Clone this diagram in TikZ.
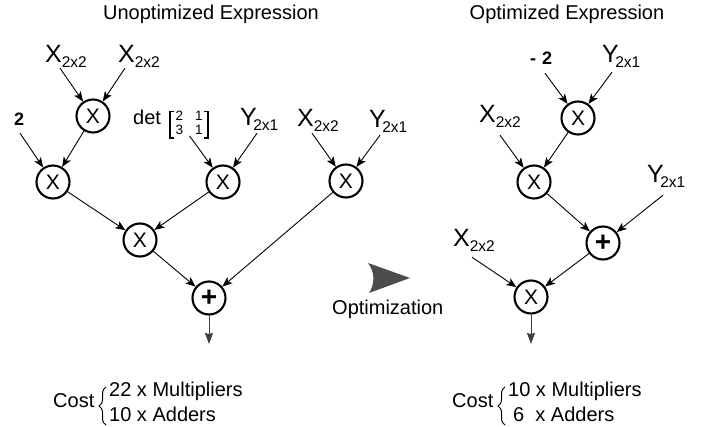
\documentclass[tikz,border=0pt]{standalone}
\usepackage{fontspec}
\setmainfont{Liberation Sans}
\usetikzlibrary{arrows.meta,decorations.pathreplacing}

\newcommand\fs[1]{\fontsize{#1}{#1}\selectfont}
% operand labels with a lowered size subscript
\newcommand\Xsub{{\fs{25}X}\raisebox{-5pt}{\fs{15.5}2x2}}
\newcommand\Ysub{{\fs{25}Y}\kern-3.5pt\raisebox{-5pt}{\fs{15.5}2x1}}

\begin{document}
\begin{tikzpicture}[x=1pt,y=-1pt,
  op/.style={circle,draw,line width=2.1pt,minimum size=33pt,inner sep=0pt,font=\fs{21}},
  addop/.style={op,font=\fs{28}\bfseries},
  lbl/.style={inner sep=0pt,anchor=base west},
  numlbl/.style={lbl,font=\fs{18}\bfseries},
  txt/.style={inner sep=0pt,anchor=base west,font=\fs{20}},
  ttl/.style={inner sep=0pt,anchor=base,font=\fs{20}},
  matbr/.style={line width=1.5pt},
  edge/.style={line width=0.9pt,-{Stealth[length=10pt,width=8pt,inset=2.5pt]}},
  outedge/.style={line width=1pt,draw=black!75,-{Stealth[length=11pt,width=8pt,inset=1pt]}},
  costbrace/.style={decorate,decoration={brace,amplitude=7pt},line width=1pt}]

\useasboundingbox (0,0) rectangle (707,427);

% titles
\node[ttl] (t1) at (211,20) {Unoptimized Expression};
\node[ttl] (t2) at (567,20) {Optimized Expression};

% ---------- unoptimized tree ----------
\node[op] (m1) at (93,116) {X};
\node[op] (m2) at (53,182) {X};
\node[op] (m3) at (223,182) {X};
\node[op] (m4) at (346,181) {X};
\node[op] (m5) at (140,240) {X};
\node[addop] (m6) at (209,298) {+};
\coordinate (o1) at (209,344);

\node[lbl] (xa) at (45,63) {\Xsub};
\node[lbl] (xb) at (118,63) {\Xsub};
\node[numlbl] (two) at (14,126) {2};
\node[lbl,font=\fs{20}] (det) at (133,125) {det};
\node[lbl,font=\fontsize{13.5}{12}\selectfont] (mat) at (175.5,121)
  {\begin{tabular}[t]{@{}c@{\hspace{12pt}}c@{}}2&1\\3&1\end{tabular}};
% matrix brackets
\draw[matbr] ([xshift=-1.5pt]mat.north west) -- ++(-4,0) |- ([xshift=-1.5pt]mat.south west);
\draw[matbr] ([xshift=1pt]mat.north east) -- ++(4,0) |- ([xshift=1pt]mat.south east);
\node[lbl] (ya) at (240,126) {\Ysub};
\node[lbl] (xc) at (297,127) {\Xsub};
\node[lbl] (yb) at (369,128) {\Ysub};

\draw[edge] ([xshift=14pt,yshift=2pt]mat.south west) -- (m3);
\draw[edge] ([xshift=15pt]xa.south west) -- (m1);
\draw[edge] ([xshift=7pt]xb.south west) -- (m1);
\draw[edge] ([xshift=6pt,yshift=-7pt]two.south west) -- (m2);
\draw[edge] (m1) -- (m2);
\draw[edge] ([xshift=17pt,yshift=-2pt]ya.south west) -- (m3);
\draw[edge] ([xshift=15pt,yshift=-1pt]xc.south west) -- (m4);
\draw[edge] ([xshift=11pt,yshift=-2pt]yb.south west) -- (m4);
\draw[edge] (m2) -- (m5);
\draw[edge] (m3) -- (m5);
\draw[edge] (m5) -- (m6);
\draw[edge] (m4) -- (m6);
\draw[outedge] (m6) -- (o1);

% ---------- optimization marker ----------
\fill[black!70] (368,263) -- (410,278) -- (369,293)
  .. controls (375,284) and (375,272) .. (368,263) -- cycle;
\node[txt] (opt) at (332,315) {Optimization};

% ---------- optimized tree ----------
\node[op] (r1) at (578,118) {X};
\node[op] (r2) at (534,182) {X};
\node[addop] (r3) at (603,243) {+};
\node[op] (r4) at (531,297) {X};
\coordinate (o2) at (531,344);

\node[numlbl] (neg) at (530,65) {-\hspace{6pt}2};
\node[lbl] (yc) at (602,63) {\Ysub};
\node[lbl] (xd) at (479,123) {\Xsub};
\node[lbl] (yd) at (647,183) {\Ysub};
\node[lbl] (xe) at (453,247) {\Xsub};

\draw[edge] ([xshift=15pt,yshift=-8pt]neg.south west) -- (r1);
\draw[edge] ([xshift=10pt,yshift=-4pt]yc.south west) -- (r1);
\draw[edge] ([xshift=21pt,yshift=-7pt]xd.south west) -- (r2);
\draw[edge] (r1) -- (r2);
\draw[edge] ([xshift=16pt,yshift=-7pt]yd.south west) -- (r3);
\draw[edge] (r2) -- (r3);
\draw[edge] ([xshift=19pt,yshift=-5pt]xe.south west) -- (r4);
\draw[edge] (r3) -- (r4);
\draw[outedge] (r4) -- (o2);

% ---------- cost summaries ----------
\node[txt] (c1) at (53,408) {Cost};
\draw[costbrace] (106,425) -- (106,387);
\node[txt] (c1a) at (109,397) {22 x Multipliers};
\node[txt] (c1b) at (109,422) {10 x Adders};

\node[txt] (c2) at (452,408) {Cost};
\draw[costbrace] (505,425) -- (505,387);
\node[txt] (c2a) at (508,397) {10 x Multipliers};
\node[txt] (c2b) at (513,422) {6\ \ x Adders};
\end{tikzpicture}
\end{document}
